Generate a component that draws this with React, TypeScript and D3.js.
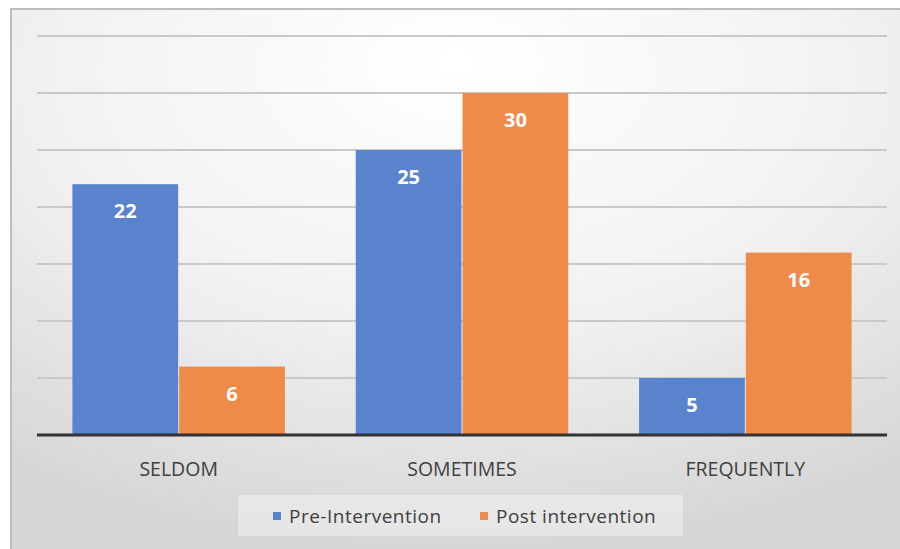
import { useMemo } from "react";
import * as d3 from "d3";

const categories = ["SELDOM", "SOMETIMES", "FREQUENTLY"];
const seriesNames = ["Pre-Intervention", "Post intervention"];
const preValues = [22, 25, 5];
const postValues = [6, 30, 16];
const yTicks = [0, 5, 10, 15, 20, 25, 30, 35];

const colors = ["#5a83cd", "#ee8b4b"];
const font = "'Open Sans', sans-serif";

export default function App() {
  const width = 900;
  const height = 549;
  const plot = { left: 37, right: 887, top: 36, bottom: 435 };

  const x = useMemo(
    () =>
      d3
        .scaleBand()
        .domain(categories)
        .range([plot.left, plot.right])
        .paddingInner(0.25)
        .paddingOuter(0.125),
    []
  );
  const inner = useMemo(
    () => d3.scaleBand().domain(["0", "1"]).range([0, x.bandwidth()]).paddingInner(0.01),
    [x]
  );
  const y = useMemo(
    () => d3.scaleLinear().domain([0, 35]).range([plot.bottom, plot.top]),
    []
  );

  const rows = categories.map((c, i) => ({ c, vals: [preValues[i], postValues[i]] }));

  return (
    <div style={{ position: "fixed", left: 0, top: 0, width, height, background: "#fff" }}>
      <svg width={width} height={height} style={{ display: "block" }}>
        <defs>
          <radialGradient id="bg" cx="50%" cy="15%" r="85%" fx="50%" fy="10%">
            <stop offset="0%" stopColor="#ffffff" />
            <stop offset="55%" stopColor="#f1f1f1" />
            <stop offset="100%" stopColor="#d6d6d6" />
          </radialGradient>
        </defs>
        <rect x={10} y={8} width={width - 10} height={height - 8} fill="url(#bg)" />
        <line x1={11} x2={11} y1={8} y2={height} stroke="#bdbdbd" strokeWidth={2} />
        <line x1={10} x2={width} y1={9} y2={9} stroke="#bdbdbd" strokeWidth={2} />

        {yTicks
          .filter((t) => t > 0)
          .map((t) => (
            <line
              key={t}
              x1={plot.left}
              x2={plot.right}
              y1={y(t)}
              y2={y(t)}
              stroke="#c9c9c9"
              strokeWidth={2}
            />
          ))}

        {rows.map((r) =>
          r.vals.map((v, j) => {
            const bx = x(r.c)! + inner(String(j))!;
            const bw = inner.bandwidth();
            return (
              <g key={r.c + j}>
                <rect x={bx} y={y(v)} width={bw} height={y(0) - y(v)} fill={colors[j]} />
                <text
                  x={bx + bw / 2}
                  y={y(v) + 34}
                  textAnchor="middle"
                  fill="#fff"
                  fontFamily={font}
                  fontWeight="bold"
                  fontSize={20}
                >
                  {v}
                </text>
              </g>
            );
          })
        )}

        <line
          x1={plot.left}
          x2={plot.right}
          y1={y(0)}
          y2={y(0)}
          stroke="#333"
          strokeWidth={3}
        />

        {categories.map((c) => (
          <text
            key={c}
            x={x(c)! + x.bandwidth() / 2}
            y={476}
            textAnchor="middle"
            fill="#404040"
            fontFamily={font}
            fontSize={19.5}
          >
            {c}
          </text>
        ))}

        <rect x={238} y={495} width={445} height={41} fill="#ececec" opacity={0.7} />
        {seriesNames.map((s, i) => {
          const lx = [273, 480][i];
          return (
            <g key={s}>
              <rect x={lx} y={512} width={8} height={8} fill={colors[i]} />
              <text
                x={lx + 16}
                y={523}
                fill="#404040"
                fontFamily={font}
                fontSize={19}
                letterSpacing={0.5}
              >
                {s}
              </text>
            </g>
          );
        })}
      </svg>
    </div>
  );
}
